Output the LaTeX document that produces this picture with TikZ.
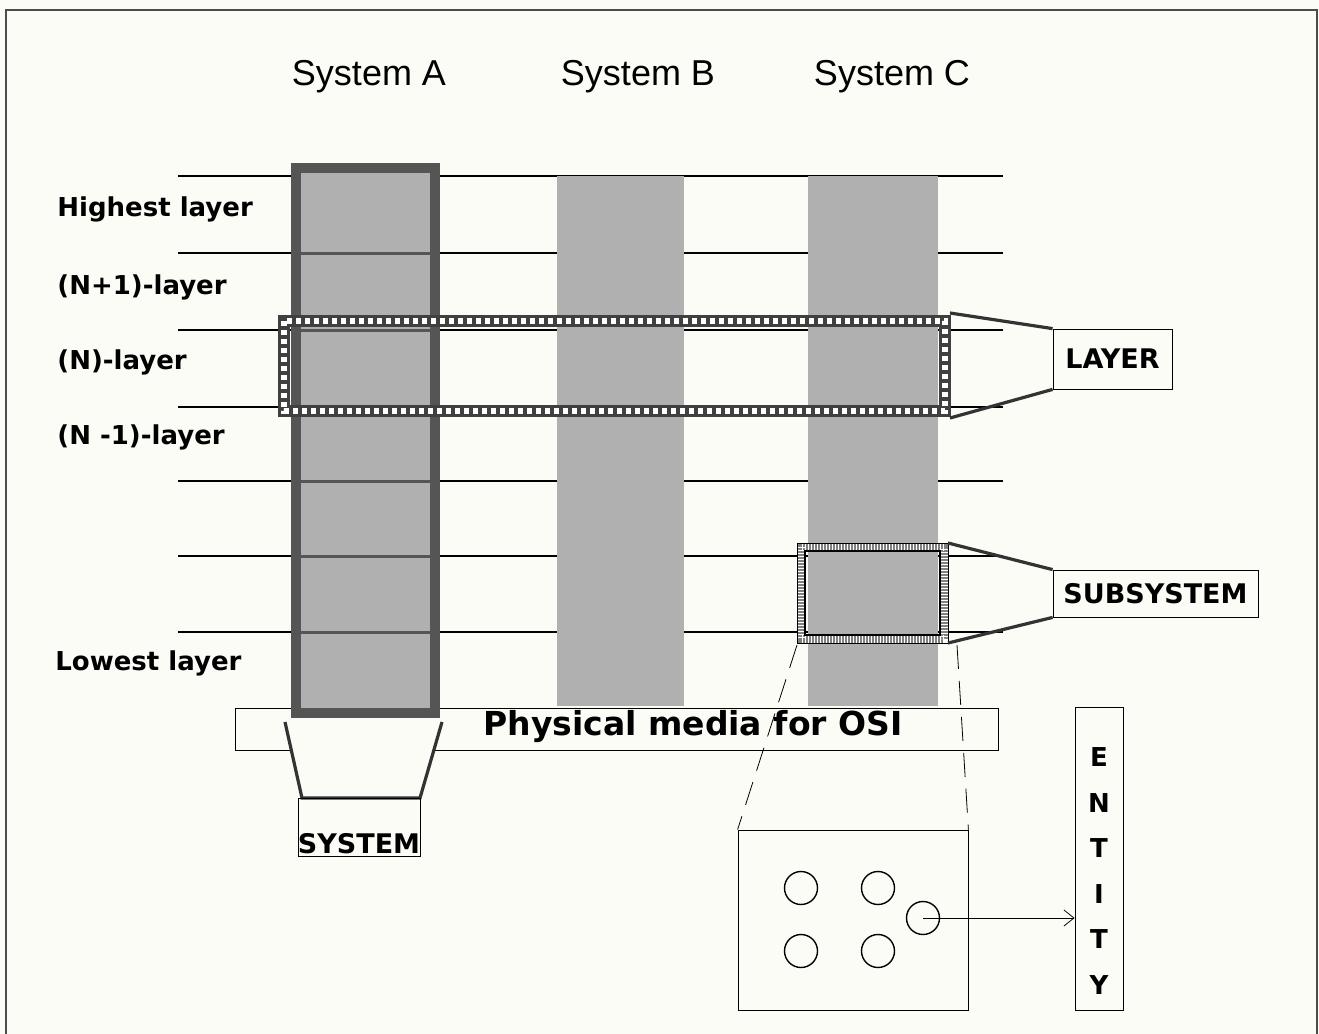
\documentclass[tikz,border=0pt]{standalone}
\usepackage{fontspec}
\setmainfont{Liberation Sans}
\newfontfamily\labfont{DejaVu Sans}
\usetikzlibrary{arrows.meta,positioning}
\definecolor{paper}{RGB}{252,252,246}
\definecolor{dotgray}{RGB}{176,176,176}
\definecolor{rimgray}{RGB}{85,85,85}

\begin{document}
\begin{tikzpicture}[
        x=0.5pt, y=-0.5pt,
        title/.style={font=\fontsize{18}{20}\selectfont},
        layerlabel/.style={anchor=west, inner sep=0pt, font=\labfont\bfseries\fontsize{13}{15}\selectfont},
        tag/.style={draw, fill=paper, inner sep=0pt, font=\labfont\bfseries\fontsize{13.5}{15}\selectfont},
        layerline/.style={line width=0.8pt},
        column/.style={fill=dotgray},
        funnel/.style={line width=1.6pt, draw=black!80},
        component/.style={circle, draw, line width=0.7pt, minimum size=16.5pt, inner sep=0pt}
    ]
        \fill[paper] (0,0) rectangle (1319,1034);
        \useasboundingbox (0,0) rectangle (1319,1034);
        \draw[line width=1.4pt, black!70] (6,1034) -- (6,10) -- (1317,10) -- (1317,1034);

        % titles and layer names
        \node[title] (titleA) at (369,77) {System A};
        \node[title] (titleB) at (638,77) {System B};
        \node[title] (titleC) at (892,77) {System C};

        \node[layerlabel] (highest) at (57,209) {Highest layer};
        \node[layerlabel] (nplus) at (57,287) {(N+1)-layer};
        \node[layerlabel] (nlayer) at (57,362) {(N)-layer};
        \node[layerlabel] (nminus) at (57,437) {(N -1)-layer};
        \node[layerlabel] (lowest) at (55,663) {Lowest layer};

        \foreach \ly in {176,253,330,407,481,556,632}
            \draw[layerline] (178,\ly) -- (1003,\ly);

        \fill[column] (557,176) rectangle (684,706);
        \fill[column] (808,176) rectangle (938,706);

        \node[draw, fill=paper, minimum width=381.5pt, minimum height=21pt] (media) at (616.5,729) {};
        \node[font=\labfont\bfseries\fontsize{16.5}{18}\selectfont] (mediatext) at (693,727) {Physical media for OSI};

        % system A
        \filldraw[draw=rimgray, line width=5pt, fill=dotgray] (296,168) rectangle (435,713);
        \foreach \ly in {253,330,407,481,556,632}
            \draw[rimgray, line width=1.5pt] (296,\ly) -- (435,\ly);

        % (N)-layer band
        \draw[line width=6pt, black!75] (284,321) rectangle (945,411);
        \draw[line width=3pt, white, dash pattern=on 2.5pt off 2pt] (284,321) rectangle (945,411);

        % subsystem
        \draw[line width=4pt, gray] (801,547) rectangle (944,639);
        \draw[line width=4pt, white, dash pattern=on 0.5pt off 1pt] (801,547) rectangle (944,639);
        \draw[thin] (797,543) rectangle (948,643);
        \draw[line width=1pt] (805,551) rectangle (940,635);

        % tags
        \node[tag, minimum width=59.5pt, minimum height=30pt] (layer) at (1112.5,359) {LAYER};
        \node[tag, minimum width=102.5pt, minimum height=23.5pt] (subsystem) at (1155.5,593.5) {SUBSYSTEM};

        \coordinate (lay-top) at (950,313);
        \coordinate (lay-bot) at (950,418);
        \draw[funnel] (lay-top) -- (layer.north west);
        \draw[funnel] (lay-bot) -- (layer.south west);

        \coordinate (sub-top) at (948,543);
        \coordinate (sub-bot) at (948,643);
        \draw[funnel] (sub-top) -- (subsystem.north west);
        \draw[funnel] (sub-bot) -- (subsystem.south west);

        \filldraw[funnel, fill=paper] (285,722) -- (302,798) -- (420,798) -- (442,722);
        \node[draw, minimum width=61pt, minimum height=29pt] (system) at (359,827) {};
        \node[anchor=south, inner sep=1pt, font=\labfont\bfseries\fontsize{13.5}{15}\selectfont] (systemword) at (system.south) {SYSTEM};

        % entity detail
        \node[draw, minimum width=115pt, minimum height=90pt] (detail) at (853,920) {};
        \coordinate (sub-sw) at (797,645);
        \coordinate (sub-se) at (957,645);
        \draw[dash pattern=on 12pt off 6pt] (sub-sw) -- (detail.north west);
        \draw[dash pattern=on 12pt off 6pt] (sub-se) -- (detail.north east);

        \foreach \name/\px/\py in {e1/801/888, e2/878/888, e3/801/951, e4/878/951, e5/923/918}
            \node[component] (\name) at (\px,\py) {};

        \node[draw, minimum width=24pt, minimum height=151.5pt] (entity) at (1099,858.5) {};
        \node[align=center, font=\labfont\bfseries\fontsize{13}{22.8}\selectfont] (entityword) at (1099,871) {E\\N\\T\\I\\T\\Y};

        \draw[-{Straight Barb[length=5pt, width=8pt]}] (e5.center) -- (e5.center -| entity.west);
    \end{tikzpicture}
\end{document}
